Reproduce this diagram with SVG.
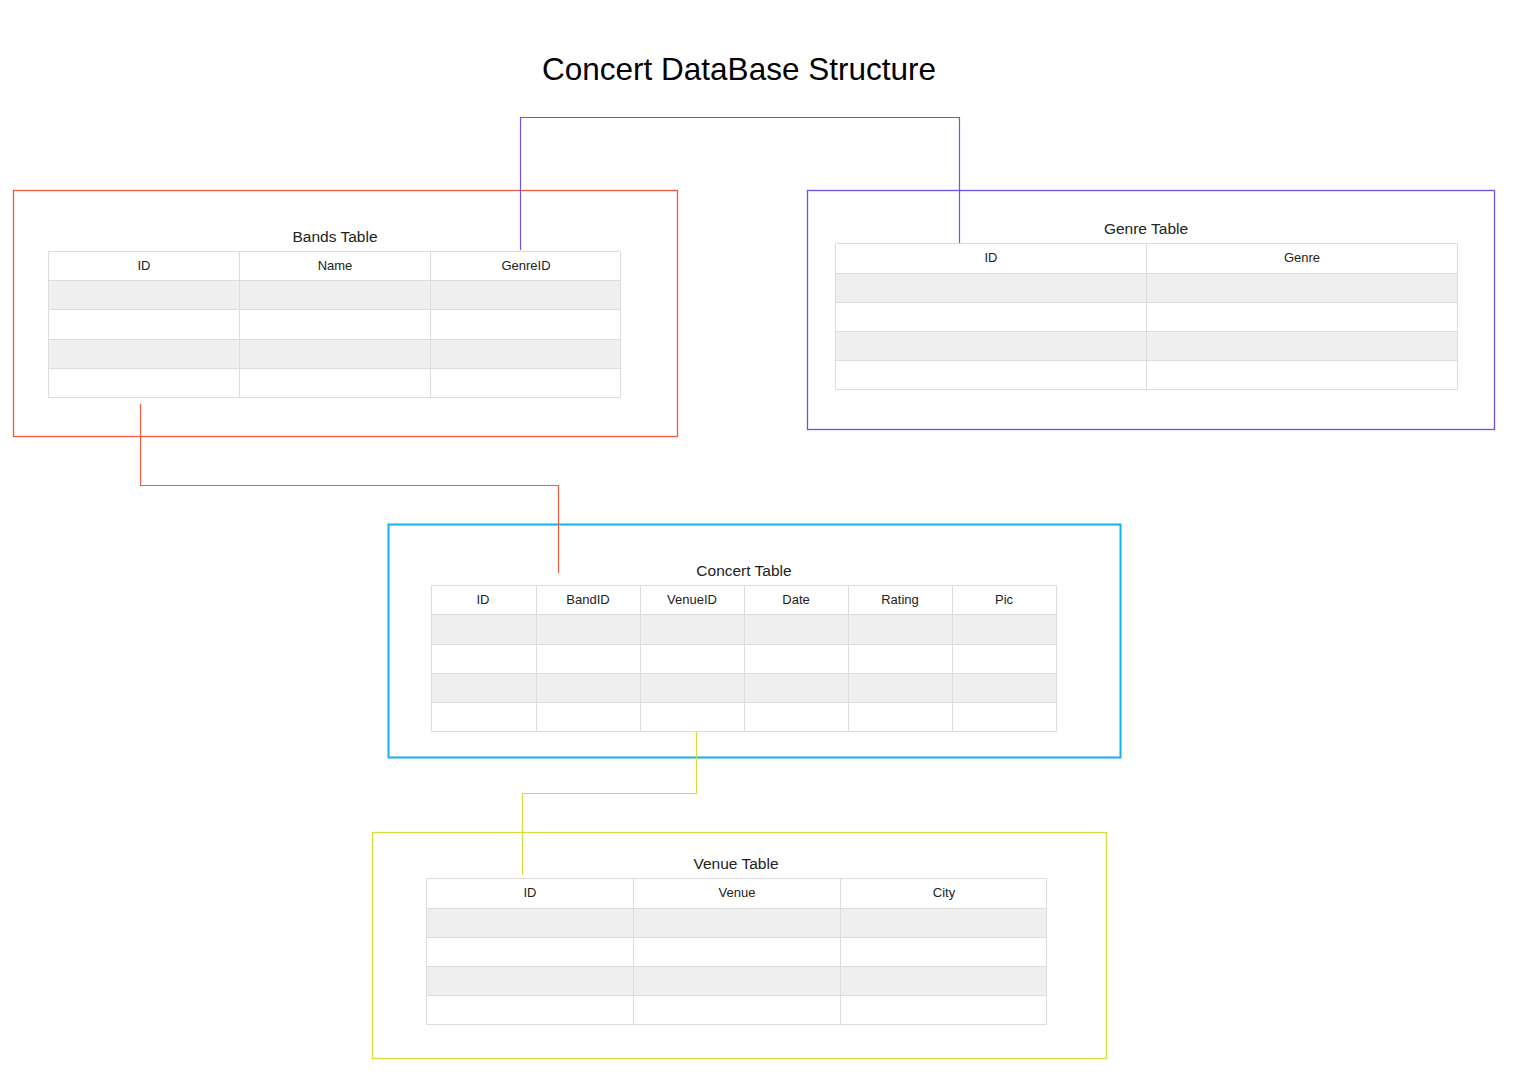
<svg xmlns="http://www.w3.org/2000/svg" width="1516" height="1084" viewBox="0 0 1516 1084">
<style>
.t{font-family:"Liberation Sans",Arial,sans-serif;text-anchor:middle;fill:#222}
.title{font-size:31.5px;fill:#000}
.cap{font-size:15.5px}
.hd{font-size:13px}
.g{fill:#efefef}
.w{fill:#fff}
.grid{stroke:#dcdcdc;stroke-width:1;fill:none}
.conn{fill:none;stroke-width:1.2}
</style>
<rect width="1516" height="1084" fill="#fff"/>
<text class="t title" x="739" y="80">Concert DataBase Structure</text>

<g id="bands">
<rect x="13.5" y="190.5" width="664" height="246" fill="none" stroke="#f05a3c" stroke-width="1.3"/>
<text class="t cap" x="335" y="242">Bands Table</text>
<rect class="w" x="48" y="251" width="573" height="29"/>
<rect class="g" x="48" y="280" width="573" height="29"/>
<rect class="g" x="48" y="339" width="573" height="29"/>
<path class="grid" d="M48.5 251.5H620.5V397.5H48.5Z M48 280.5H621 M48 309.5H621 M48 339.5H621 M48 368.5H621 M239.5 251V397 M430.5 251V397"/>
<text class="t hd" x="144" y="270">ID</text>
<text class="t hd" x="335" y="270">Name</text>
<text class="t hd" x="526" y="270">GenreID</text>
</g>

<g id="genre">
<rect x="807.5" y="190.5" width="687" height="239" fill="none" stroke="#6e50ee" stroke-width="1.3"/>
<text class="t cap" x="1146" y="234">Genre Table</text>
<rect class="w" x="835" y="243" width="622" height="30"/>
<rect class="g" x="835" y="273" width="622" height="29"/>
<rect class="g" x="835" y="331" width="622" height="29"/>
<path class="grid" d="M835.5 243.5H1457.5V389.5H835.5Z M835 273.5H1457 M835 302.5H1457 M835 331.5H1457 M835 360.5H1457 M1146.5 243V390"/>
<text class="t hd" x="991" y="262">ID</text>
<text class="t hd" x="1302" y="262">Genre</text>
</g>

<g id="concert">
<rect x="388.5" y="524.5" width="732" height="233" fill="none" stroke="#12b0f5" stroke-width="2"/>
<text class="t cap" x="744" y="576">Concert Table</text>
<rect class="w" x="431" y="585" width="625" height="29"/>
<rect class="g" x="431" y="614" width="625" height="30"/>
<rect class="g" x="431" y="673" width="625" height="29"/>
<path class="grid" d="M431.5 585.5H1056.5V731.5H431.5Z M431 614.5H1056 M431 644.5H1056 M431 673.5H1056 M431 702.5H1056 M536.5 585V731 M640.5 585V731 M744.5 585V731 M848.5 585V731 M952.5 585V731"/>
<text class="t hd" x="483" y="604">ID</text>
<text class="t hd" x="588" y="604">BandID</text>
<text class="t hd" x="692" y="604">VenueID</text>
<text class="t hd" x="796" y="604">Date</text>
<text class="t hd" x="900" y="604">Rating</text>
<text class="t hd" x="1004" y="604">Pic</text>
</g>

<g id="venue">
<rect x="372.5" y="832.5" width="734" height="226" fill="none" stroke="#d6dc3c" stroke-width="1.3"/>
<text class="t cap" x="736" y="869">Venue Table</text>
<rect class="w" x="426" y="878" width="621" height="30"/>
<rect class="g" x="426" y="908" width="621" height="29"/>
<rect class="g" x="426" y="966" width="621" height="29"/>
<path class="grid" d="M426.5 878.5H1046.5V1024.5H426.5Z M426 908.5H1047 M426 937.5H1047 M426 966.5H1047 M426 995.5H1047 M633.5 878V1024 M840.5 878V1024"/>
<text class="t hd" x="530" y="897">ID</text>
<text class="t hd" x="737" y="897">Venue</text>
<text class="t hd" x="944" y="897">City</text>
</g>

<g id="connectors">
<path class="conn" stroke="#6e50ee" d="M520.5 250V117.5H959.5V243"/>
<path class="conn" stroke="#f05a3c" d="M140.5 404V485.5H558.5V573"/>
<path class="conn" stroke="#d6dc3c" d="M696.5 732V793.5H522.5V875"/>
</g>
</svg>
